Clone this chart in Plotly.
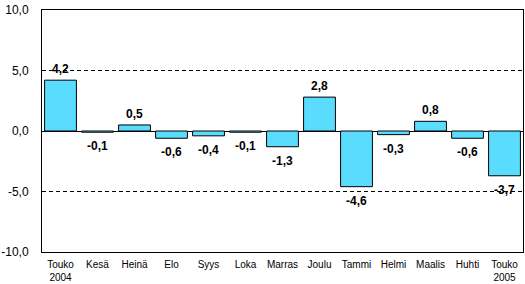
import plotly.graph_objects as go

categories = ["Touko<br>2004", "Kesä", "Heinä", "Elo", "Syys", "Loka", "Marras",
              "Joulu", "Tammi", "Helmi", "Maalis", "Huhti", "Touko<br>2005"]
values = [4.2, -0.1, 0.5, -0.6, -0.4, -0.1, -1.3, 2.8, -4.6, -0.3, 0.8, -0.6, -3.7]
ytick_vals = [-10, -5, 0, 5, 10]
ytick_text = ["-10,0", "-5,0", "0,0", "5,0", "10,0"]

font = "Liberation Sans, Arial, sans-serif"

fig = go.Figure()
fig.add_trace(go.Bar(
    x=categories, y=values,
    marker=dict(color="#5ADCFF", line=dict(color="black", width=1)),
    width=0.86,
))

for c, v in zip(categories, values):
    fig.add_annotation(
        x=c, y=v, text=f"{v:.1f}".replace(".", ","), showarrow=False,
        yanchor="middle", yshift=11 if v > 0 else -14,
        font=dict(family=font, size=12, color="black", weight="bold"),
    )

fig.update_layout(
    width=525, height=284,
    margin=dict(l=42, r=2, t=10, b=32),
    paper_bgcolor="white", plot_bgcolor="white",
    showlegend=False,
    font=dict(family=font, color="black"),
    xaxis=dict(
        showline=True, mirror=True, linecolor="black", linewidth=1,
        showgrid=False, ticks="", tickfont=dict(size=10, family=font, color="black"),
        ticklabelstandoff=3, automargin=False,
    ),
    yaxis=dict(
        range=[-10, 10], tickvals=ytick_vals, ticktext=ytick_text,
        showline=True, mirror=True, linecolor="black", linewidth=1,
        showgrid=True, gridcolor="black", griddash="4px,3px", gridwidth=1,
        zeroline=True, zerolinecolor="black", zerolinewidth=1,
        ticks="outside", ticklen=10, tickcolor="white",
        tickfont=dict(size=12, family=font, color="black"),
        automargin=False,
    ),
)

fig.write_html("out.html")
